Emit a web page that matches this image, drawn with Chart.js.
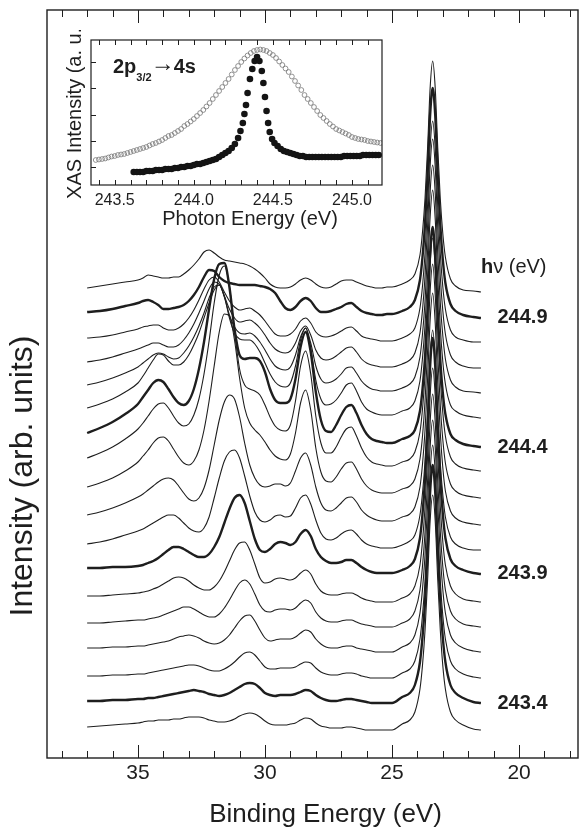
<!DOCTYPE html>
<html>
<head>
<meta charset="utf-8">
<script src="https://cdn.jsdelivr.net/npm/chart.js@4"></script>
<style>
  body { margin: 0; background: #fff; }
  #wrap { position: relative; width: 579px; height: 832px; }
  #main { position: absolute; left: 0; top: 0; }
  #xas { position: absolute; left: 50px; top: 30px; }
</style>
</head>
<body>
<div id="wrap">
  <canvas id="main" width="579" height="832"></canvas>
  <canvas id="xas" width="345" height="206"></canvas>
</div>
<script>
// binding energy grid of the photoemission spectra (eV)
const bindingEnergy = [37.0, 36.5, 36.0, 35.5, 35.0, 34.8, 34.6, 34.4, 34.2, 34.0, 33.8, 33.6, 33.4, 33.2, 33.0,
  32.8, 32.6, 32.4, 32.2, 32.0, 31.8, 31.6, 31.4, 31.2, 31.0, 30.8, 30.6, 30.4, 30.2, 30.0, 29.8, 29.6, 29.4, 29.2, 29.0,
  28.8, 28.6, 28.4, 28.2, 28.0, 27.8, 27.6, 27.4, 27.2, 27.0, 26.8, 26.6, 26.4, 26.2, 26.0, 25.8, 25.6, 25.4, 25.2, 25.0,
  24.6, 24.3, 24.1, 23.9, 23.8, 23.7, 23.6, 23.5, 23.4, 23.3, 23.2, 23.1, 23.0, 22.9, 22.7, 22.5, 22.2, 21.8, 21.5];

const photonEnergy = [245.0, 244.9, 244.8, 244.7, 244.6, 244.5, 244.4, 244.3, 244.2, 244.1, 244.0, 243.9, 243.8, 243.7, 243.6, 243.5, 243.4, 243.3];
const labelledEnergy = [244.9, 244.4, 243.9, 243.4];
// vertical offset of each spectrum in the waterfall (arb. units)
const stackOffset = [466, 441, 416, 390, 365, 340, 311, 287, 260, 233, 208, 185, 156, 131, 106, 80, 55, 28];

// intensity of each spectrum above its own offset, one array per photon energy
const s2450 = [4,6,8,10,12,14,17,16,15,14,14,15,15,18,22, 27,33,40,42,39,35,32,31,30,29,28,26,23,19,14,8,5,4,4,5, 8,12,14,12,8,5,4,5,8,11,12,12,10,8,6,5,4,4,5,5, 8,12,18,37,60,94,144,204,231,204,144,93,58,35,13,6,2,1,0];
const s2449 = [5,6,8,11,14,16,17,15,12,8,8,9,10,12,16, 22,30,40,47,46,40,36,34,33,32,32,32,32,31,30,28,24,16,9,7, 10,16,19,16,9,5,5,6,8,10,13,14,10,6,4,3,2,2,3,3, 6,10,17,37,60,93,143,202,229,202,142,92,57,34,13,6,2,0,-1];
const s2448 = [4,5,7,10,13,15,16,17,17,14,12,12,14,18,24, 32,42,53,62,65,60,50,41,35,32,33,34,31,27,21,14,8,6,6,8, 13,21,24,19,10,6,5,6,8,11,14,15,11,6,4,3,2,1,1,1, 4,8,14,34,56,89,137,195,221,194,137,88,55,33,12,5,2,0,0];
const s2447 = [6,8,11,15,19,21,23,25,25,23,21,21,23,28,35, 44,55,67,79,86,84,72,59,50,46,47,48,45,40,33,25,19,16,15,17, 25,37,42,33,18,10,8,9,12,16,20,21,16,9,5,3,2,1,1,1, 4,8,15,35,58,92,142,202,229,201,141,91,57,34,13,6,2,0,0];
const s2446 = [8,11,15,20,26,30,34,38,40,39,36,34,35,40,47, 56,67,80,95,106,108,96,78,66,60,59,60,57,51,43,34,27,24,23,26, 38,56,65,50,27,14,10,11,14,19,25,26,20,12,7,4,3,2,2,2, 5,9,16,36,59,92,142,201,228,200,140,90,57,34,13,6,2,1,0];
const s2445 = [10,14,19,26,35,42,50,58,64,63,57,53,53,56,63, 73,85,100,115,128,133,122,100,85,79,78,78,74,66,55,44,36,32,31,35, 52,78,90,70,38,19,13,14,18,25,33,35,27,16,9,6,4,3,3,3, 7,10,17,37,60,93,143,201,228,199,140,90,56,34,13,7,3,1,0];
const s2444 = [14,19,25,33,43,50,57,64,67,65,58,50,44,42,46, 58,78,105,138,168,183,184,160,118,92,88,89,89,86,75,58,47,44,44,48, 68,100,115,95,55,27,16,15,22,32,40,42,34,22,13,8,6,5,4,4, 8,11,17,36,58,90,138,194,220,191,134,87,54,33,13,7,3,1,0];
const s2443 = [13,18,24,32,42,48,55,62,67,68,63,55,48,45,47, 56,72,97,130,168,196,205,185,140,102,86,82,80,76,66,54,45,41,40,46, 70,105,120,97,55,28,18,18,24,34,42,44,35,23,14,9,7,6,5,5, 9,12,19,39,62,96,147,206,233,202,142,92,58,35,14,7,3,1,0];
const s2442 = [11,15,20,27,36,42,48,55,60,61,57,49,41,35,33, 37,48,68,97,132,166,184,182,158,120,90,75,68,63,56,48,42,39,38,44, 65,95,108,88,50,26,17,16,21,29,35,36,29,19,12,8,6,5,5,5, 9,12,19,39,62,97,147,207,234,203,143,92,58,35,14,7,3,1,0];
const s2441 = [10,13,17,22,28,31,35,39,43,46,47,45,39,32,26, 24,27,37,55,80,105,123,130,126,108,82,60,47,40,38,39,41,41,39,42, 54,67,72,60,38,22,15,14,17,22,27,28,23,15,10,7,5,4,4,4, 8,11,18,38,61,95,146,205,232,202,142,92,57,34,14,7,3,1,0];
const s2440 = [6,8,11,15,19,21,24,27,30,33,35,35,32,27,22, 19,18,22,33,52,72,89,98,100,92,74,54,38,30,28,30,34,35,33,34, 42,52,55,46,30,17,11,10,12,16,19,20,16,10,6,4,3,2,2,2, 5,9,15,35,57,89,137,194,220,192,135,87,55,33,13,6,2,0,0];
const s2439 = [5,5,6,6,7,8,10,12,15,19,23,26,26,24,21, 18,16,16,19,26,36,50,64,75,78,70,52,34,23,21,24,29,31,30,28, 31,39,43,37,24,16,12,10,10,11,13,13,10,6,3,1,0,0,0,0, 3,7,14,35,59,94,146,207,235,207,146,94,59,35,14,7,3,0,-1];
const s2438 = [6,6,7,8,9,10,11,13,15,18,21,24,25,24,21, 17,14,12,12,15,21,30,41,52,59,60,52,38,24,19,20,23,24,23,22, 24,29,32,28,18,11,8,7,7,8,9,9,7,4,2,1,0,0,0,0, 4,8,16,37,61,95,146,206,234,206,146,95,60,37,16,8,3,1,0];
const s2437 = [4,4,5,6,7,7,8,9,10,12,14,16,18,20,20, 18,15,12,10,10,13,19,27,36,44,47,43,33,22,16,15,17,18,18,17, 19,24,27,24,15,9,6,5,5,6,7,7,5,3,2,1,0,0,0,0, 4,8,16,37,61,95,146,205,233,205,146,95,60,37,16,8,3,1,0];
const s2436 = [4,4,5,5,6,6,7,8,9,10,11,13,15,16,17, 16,14,11,9,8,9,12,17,24,31,36,37,31,22,14,11,12,13,13,13, 15,19,22,20,13,8,5,4,4,5,6,6,4,3,2,1,0,0,0,0, 5,9,17,39,63,97,147,205,232,205,147,97,62,39,17,9,4,1,0];
const s2435 = [2,2,3,3,4,4,5,6,7,8,9,10,11,12,13, 13,12,10,8,7,7,9,12,16,21,25,26,23,17,11,9,9,10,10,10, 11,14,16,15,10,6,4,3,3,4,5,5,4,2,1,0,0,0,0,0, 5,9,17,39,63,97,148,206,233,206,148,97,62,39,17,9,4,1,0];
const s2434 = [2,2,3,3,4,4,5,5,6,7,8,9,10,11,12, 13,12,11,9,8,7,8,10,13,16,19,20,19,15,10,8,7,8,8,8, 9,11,13,12,8,5,3,2,2,3,4,4,3,2,1,0,0,0,0,0, 6,10,18,41,66,101,152,211,238,211,152,101,65,41,18,10,5,1,0];
const s2433 = [3,4,5,6,7,8,9,9,10,10,10,11,11,12,13, 13,13,12,10,9,8,8,9,11,14,16,17,16,13,9,6,5,5,5,6, 7,10,12,11,7,4,3,2,2,2,3,3,2,1,0,0,0,0,0,0, 6,10,18,41,65,100,150,209,235,209,150,100,64,41,18,10,5,1,0];

const spectra = [s2450, s2449, s2448, s2447, s2446, s2445, s2444, s2443, s2442,
  s2441, s2440, s2439, s2438, s2437, s2436, s2435, s2434, s2433];

// XAS across the 2p3/2 -> 4s resonance (inset)
const xasOpenEnergy = [243.38, 243.40, 243.42, 243.44, 243.46, 243.48, 243.50, 243.52, 243.54, 243.56, 243.58, 243.60,
  243.62, 243.64, 243.66, 243.68, 243.70, 243.72, 243.74, 243.76, 243.78, 243.80, 243.82, 243.84, 243.86, 243.88,
  243.90, 243.92, 243.94, 243.96, 243.98, 244.00, 244.02, 244.04, 244.06, 244.08, 244.10, 244.12, 244.14, 244.16,
  244.18, 244.20, 244.22, 244.24, 244.26, 244.28, 244.30, 244.32, 244.34, 244.36, 244.38, 244.40, 244.42, 244.44,
  244.46, 244.48, 244.50, 244.52, 244.54, 244.56, 244.58, 244.60, 244.62, 244.64, 244.66, 244.68, 244.70, 244.72,
  244.74, 244.76, 244.78, 244.80, 244.82, 244.84, 244.86, 244.88, 244.90, 244.92, 244.94, 244.96, 244.98, 245.00,
  245.02, 245.04, 245.06, 245.08, 245.10, 245.12, 245.14, 245.16, 245.18];
const xasOpen = [25, 25.5, 26, 26.5, 27.5, 28.5, 29, 30, 30.5, 31, 32, 33, 34, 35, 36, 37, 38, 39.5, 41, 42, 43.5, 45,
  47, 49, 50, 52, 54, 56, 59, 61, 63.5, 66, 69, 72, 75, 78.5, 82, 86, 90, 94, 98, 102, 106, 110.5, 115, 119, 123,
  126.5, 129.5, 132, 134, 135, 135.5, 135, 134, 132, 130, 127, 123.5, 120, 116.5, 113, 108.5, 104, 99.5, 95, 90, 86,
  82, 78, 74, 70, 67, 64, 61, 58.5, 56, 54.5, 53, 51.5, 50, 48, 47, 46, 45.5, 45, 44, 43.5, 43, 42.5, 42];

const xasFilledEnergy = [243.62, 243.64, 243.66, 243.68, 243.70, 243.72, 243.74, 243.76, 243.78, 243.80, 243.82,
  243.84, 243.86, 243.88, 243.90, 243.92, 243.94, 243.96, 243.98, 244.00, 244.02, 244.04, 244.06, 244.08, 244.10,
  244.12, 244.14, 244.16, 244.18, 244.20, 244.22, 244.24, 244.26, 244.28, 244.295, 244.31, 244.32, 244.33, 244.34,
  244.355, 244.37, 244.385, 244.40, 244.415, 244.43, 244.44, 244.45, 244.46, 244.47, 244.48, 244.495, 244.51,
  244.53, 244.55, 244.57, 244.59, 244.61, 244.63, 244.65, 244.67, 244.69, 244.71, 244.73, 244.75, 244.77, 244.79,
  244.81, 244.83, 244.85, 244.87, 244.89, 244.91, 244.93, 244.95, 244.97, 244.99, 245.01, 245.03, 245.05, 245.07,
  245.09, 245.11, 245.13, 245.15, 245.17];
const xasFilled = [13, 13, 13, 13, 14, 14, 14, 15, 15, 15, 16, 16, 16, 17, 17, 18, 18, 19, 19, 20, 21, 21, 22, 23,
  24, 25, 26, 28, 30, 32, 34, 37, 41, 47, 54, 62, 71, 80, 92, 106, 116, 124, 128, 124, 114, 102, 88, 74, 62, 53, 46,
  42, 39, 36, 34, 33, 32, 31, 30, 29, 29, 28, 28, 28, 28, 28, 28, 28, 28, 28, 28, 28, 28, 29, 29, 29, 29, 29, 29,
  30, 30, 30, 30, 30, 30];
const xasTicks = [18, 44, 70, 97, 123];

const INK = '#1e1e1e';
const FONT = "'Liberation Sans', Arial, Helvetica, sans-serif";
Chart.defaults.font.family = FONT;
Chart.defaults.color = INK;

// frame with inward ticks, axis titles and photon energy labels
const mainDecor = {
  id: 'mainDecor',
  afterDraw(chart) {
    const { ctx, chartArea: a, scales: { x, y } } = chart;
    ctx.save();
    ctx.strokeStyle = INK;
    ctx.lineWidth = 1.4;
    ctx.strokeRect(a.left, a.top, a.right - a.left, a.bottom - a.top);
    ctx.lineWidth = 1;
    for (let v = 18; v <= 38; v++) {
      const px = Math.round(x.getPixelForValue(v)) + 0.5;
      const len = v % 5 === 0 ? 13 : 7;
      ctx.beginPath();
      ctx.moveTo(px, a.bottom); ctx.lineTo(px, a.bottom - len);
      ctx.moveTo(px, a.top); ctx.lineTo(px, a.top + len);
      ctx.stroke();
    }

    ctx.fillStyle = INK;
    ctx.textAlign = 'center';
    ctx.textBaseline = 'alphabetic';
    ctx.font = `26px ${FONT}`;
    ctx.fillText('Binding Energy (eV)', (a.left + a.right) / 2 + 13, 822);

    ctx.save();
    ctx.translate(32, 476);
    ctx.rotate(-Math.PI / 2);
    ctx.font = `32px ${FONT}`;
    ctx.fillText('Intensity (arb. units)', 0, 0);
    ctx.restore();

    ctx.textAlign = 'left';
    ctx.textBaseline = 'middle';
    const lx = x.getPixelForValue(20.85);
    ctx.font = `bold 20px ${FONT}`;
    labelledEnergy.forEach(hv => {
      const i = photonEnergy.indexOf(hv);
      ctx.fillText(hv.toFixed(1), lx, y.getPixelForValue(stackOffset[i]));
    });
    const hx = x.getPixelForValue(21.5);
    const hy = y.getPixelForValue(stackOffset[0] + 25);
    ctx.fillText('h', hx, hy);
    const hw = ctx.measureText('h').width;
    ctx.font = `20px ${FONT}`;
    ctx.fillText('\u03bd (eV)', hx + hw, hy);
    ctx.restore();
  }
};

new Chart(document.getElementById('main'), {
  type: 'line',
  data: {
    datasets: photonEnergy.map((hv, i) => ({
      label: hv.toFixed(1) + ' eV',
      data: bindingEnergy.map((e, j) => ({ x: e, y: stackOffset[i] + spectra[i][j] })),
      borderColor: INK,
      borderWidth: labelledEnergy.includes(hv) ? 2.4 : 1.1,
      pointRadius: 0,
      cubicInterpolationMode: 'monotone',
      fill: false
    }))
  },
  options: {
    responsive: false,
    animation: false,
    devicePixelRatio: 1,
    layout: { padding: { left: 47, top: 10, right: 1 } },
    plugins: { legend: { display: false }, tooltip: { enabled: false } },
    scales: {
      x: {
        type: 'linear', reverse: true, min: 17.68, max: 38.58,
        grid: { display: false }, border: { display: false },
        ticks: { stepSize: 5, includeBounds: false, maxRotation: 0, padding: -5, font: { size: 21 } },
        afterFit(s) { s.height = 74; }
      },
      y: { display: false, min: 0, max: 748 }
    }
  },
  plugins: [mainDecor]
});

// inset frame, ticks and captions
const xasDecor = {
  id: 'xasDecor',
  afterDraw(chart) {
    const { ctx, chartArea: a, scales: { x, y } } = chart;
    ctx.save();
    ctx.strokeStyle = INK;
    ctx.lineWidth = 1.2;
    ctx.strokeRect(a.left, a.top, a.right - a.left, a.bottom - a.top);
    ctx.lineWidth = 1;
    for (let k = 2434; k <= 2451; k++) {
      const px = Math.round(x.getPixelForValue(k / 10)) + 0.5;
      ctx.beginPath();
      ctx.moveTo(px, a.bottom); ctx.lineTo(px, a.bottom - 5);
      ctx.moveTo(px, a.top); ctx.lineTo(px, a.top + 5);
      ctx.stroke();
    }
    xasTicks.forEach(v => {
      const py = Math.round(y.getPixelForValue(v)) + 0.5;
      ctx.beginPath();
      ctx.moveTo(a.left, py); ctx.lineTo(a.left + 5, py);
      ctx.stroke();
    });

    ctx.fillStyle = INK;
    ctx.textAlign = 'center';
    ctx.font = `20px ${FONT}`;
    ctx.fillText('Photon Energy (eV)', 200, 195);
    ctx.save();
    ctx.translate(31, 80);
    ctx.rotate(-Math.PI / 2);
    ctx.fillText('XAS Intensity (a. u.)', 0, 0);
    ctx.restore();

    // 2p3/2 -> 4s
    ctx.textAlign = 'left';
    let cx = 63;
    ctx.font = `bold 20px ${FONT}`;
    ctx.fillText('2p', cx, 43);
    cx += ctx.measureText('2p').width;
    ctx.font = `bold 11px ${FONT}`;
    ctx.fillText('3/2', cx, 51);
    cx += ctx.measureText('3/2').width - 1;
    ctx.font = `24px ${FONT}`;
    ctx.fillText('\u2192', cx, 41);
    cx += ctx.measureText('\u2192').width - 1;
    ctx.font = `bold 20px ${FONT}`;
    ctx.fillText('4s', cx, 43);
    ctx.restore();
  }
};

new Chart(document.getElementById('xas'), {
  type: 'scatter',
  data: {
    datasets: [
      {
        label: 'total',
        data: xasOpenEnergy.map((e, k) => ({ x: e, y: xasOpen[k] })),
        pointRadius: 2.4, pointBorderWidth: 0.8,
        borderColor: '#777', backgroundColor: 'rgba(255,255,255,0)'
      },
      {
        label: 'partial',
        data: xasFilledEnergy.map((e, k) => ({ x: e, y: xasFilled[k] })),
        pointRadius: 3.3, pointBorderWidth: 0,
        borderColor: '#141414', backgroundColor: '#141414'
      }
    ]
  },
  options: {
    responsive: false,
    animation: false,
    devicePixelRatio: 1,
    layout: { padding: { left: 41, top: 10, right: 13 } },
    plugins: { legend: { display: false }, tooltip: { enabled: false } },
    scales: {
      x: {
        type: 'linear', min: 243.35, max: 245.19,
        grid: { display: false }, border: { display: false },
        ticks: { stepSize: 0.5, includeBounds: false, maxRotation: 0, padding: -2, font: { size: 16 },
                 callback: v => v.toFixed(1) },
        afterFit(s) { s.height = 51; }
      },
      y: { display: false, min: 0, max: 145 }
    }
  },
  plugins: [xasDecor]
});
</script>
</body>
</html>
